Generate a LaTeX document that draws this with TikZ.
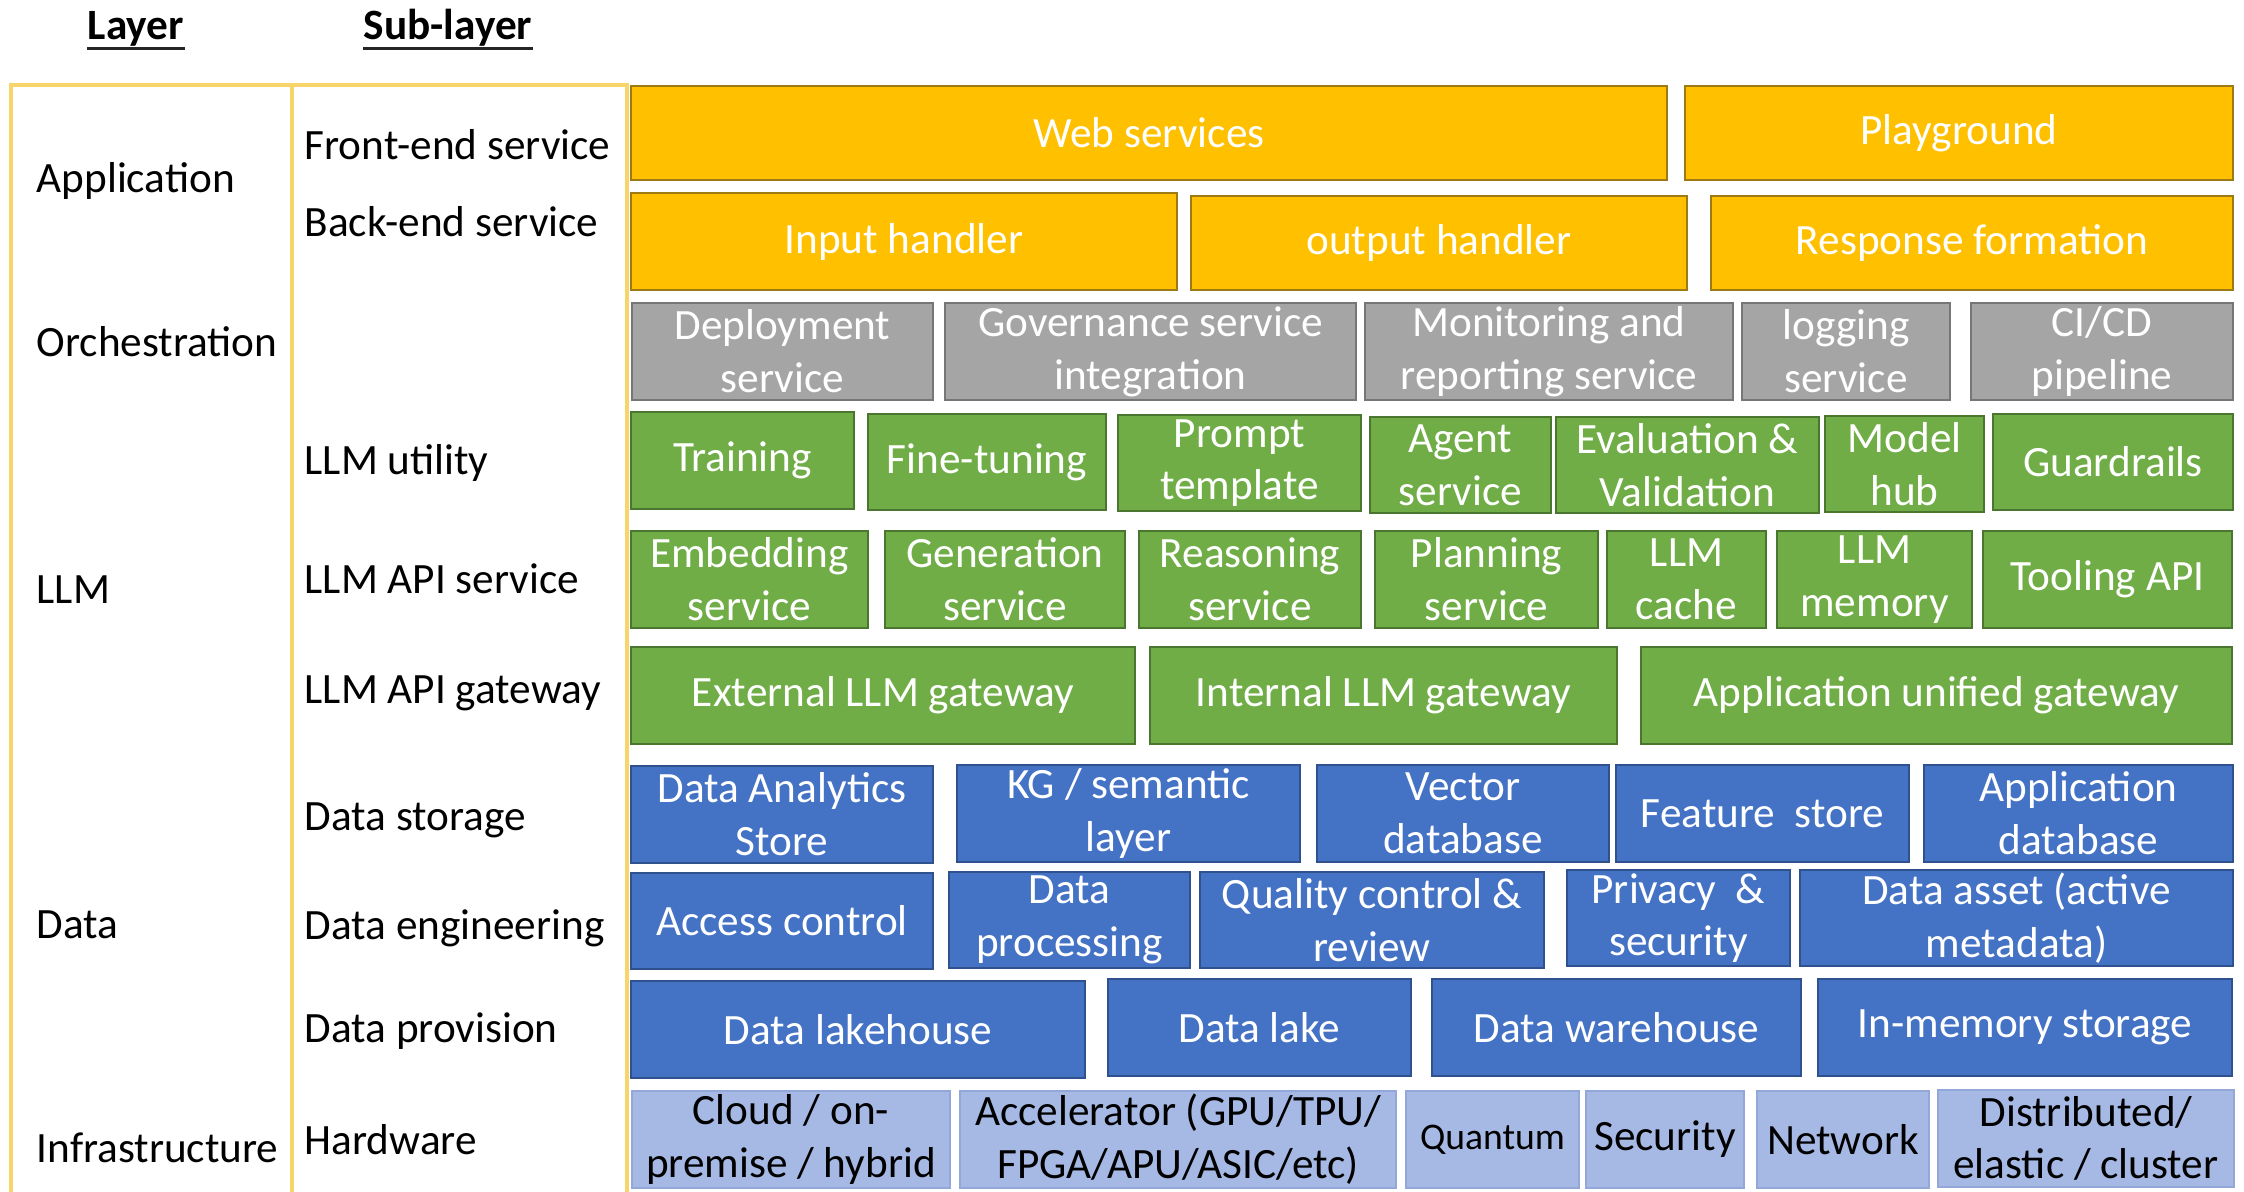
\documentclass[tikz,border=0pt]{standalone}
\usepackage{fontspec}
\setmainfont{Carlito}
\definecolor{goldf}{HTML}{FFC000}
\definecolor{goldd}{HTML}{9E7A12}
\definecolor{grayf}{HTML}{A5A5A5}
\definecolor{grayd}{HTML}{767676}
\definecolor{greenf}{HTML}{70AD47}
\definecolor{greend}{HTML}{4A7630}
\definecolor{bluef}{HTML}{4472C4}
\definecolor{blued}{HTML}{2F528F}
\definecolor{hwf}{HTML}{A6B9E4}
\definecolor{hwd}{HTML}{93A8D8}
\definecolor{framec}{HTML}{F8D56A}
\newcommand\bxfont{\fontsize{12.3pt}{15pt}\selectfont}
\newcommand\smfont{\fontsize{10.7pt}{13pt}\selectfont}
% style, name, x1, y1, x2, y2, text
\newcommand\bx[7]{%
  \pgfmathsetmacro\bxw{(#5-#3)*0.01}%
  \pgfmathsetmacro\bxh{(#6-#4)*0.01}%
  \node[#1, minimum width=\bxw cm, minimum height=\bxh cm] (#2) at ({(#3+#5)/2},{(#4+#6)/2}) {#7};}
\begin{document}
\begin{tikzpicture}[x=0.01cm,y=-0.01cm,
  boxbase/.style={inner sep=0pt, line width=0.6pt, align=center, font=\bxfont, text=white},
  yb/.style={boxbase, fill=goldf, draw=goldd},
  gb/.style={boxbase, fill=grayf, draw=grayd},
  grb/.style={boxbase, fill=greenf, draw=greend},
  bb/.style={boxbase, fill=bluef, draw=blued},
  hb/.style={boxbase, fill=hwf, draw=hwd, text=black},
  lbl/.style={anchor=base west, inner sep=0pt, font=\bxfont, text=black},
  hdr/.style={anchor=base, inner sep=0pt, font=\bxfont\bfseries, text=black},
  uline/.style={draw=black!85, line width=0.8pt},
  frame/.style={draw=framec, line width=0.9pt}]
\useasboundingbox (0,0) rectangle (2244,1192);
% frame
\draw[frame] (11,1192) -- (11,85) -- (627,85) -- (627,1192);
\draw[frame] (292,85) -- (292,1192);
% headers
\node[hdr] (hlayer) at (136,40) {Layer};
\node[hdr] (hsub) at (448,40) {Sub-layer};
\draw[uline] ([yshift=-2.5pt]hlayer.base west) -- ([yshift=-2.5pt]hlayer.base east);
\draw[uline] ([yshift=-2.5pt]hsub.base west) -- ([yshift=-2.5pt]hsub.base east);
% layer labels
\node[lbl] (lapp) at (36,193) {Application};
\node[lbl] (lorch) at (36,357) {Orchestration};
\node[lbl] (lllm) at (36,604) {LLM};
\node[lbl] (ldata) at (36,939) {Data};
\node[lbl] (linfra) at (36,1163) {Infrastructure};
% sub-layer labels
\node[lbl] (sfront) at (304,160) {Front-end service};
\node[lbl] (sback) at (304,237) {Back-end service};
\node[lbl] (sutil) at (304,475) {LLM utility};
\node[lbl] (sapi) at (304,594) {LLM API service};
\node[lbl] (sgw) at (304,704) {LLM API gateway};
\node[lbl] (sstore) at (304,831) {Data storage};
\node[lbl] (seng) at (304,940) {Data engineering};
\node[lbl] (sprov) at (304,1043) {Data provision};
\node[lbl] (shw) at (304,1155) {Hardware};
% Row 1
\bx{yb}{web}{631}{86}{1667}{180}{Web services}
\bx{yb}{play}{1685}{86}{2233}{180}{Playground}
% Row 2
\bx{yb}{inh}{631}{193}{1177}{290}{Input handler}
\bx{yb}{outh}{1191}{196}{1687}{290}{output handler}
\bx{yb}{resp}{1711}{196}{2233}{290}{Response formation}
% Row 3
\bx{gb}{depl}{632}{303}{933}{400}{Deployment\\service}
\bx{gb}{gov}{945}{303}{1356}{400}{Governance service\\integration}
\bx{gb}{mon}{1365}{303}{1733}{400}{Monitoring and\\reporting service}
\bx{gb}{logg}{1742}{303}{1950}{400}{logging\\service}
\bx{gb}{cicd}{1971}{303}{2233}{400}{CI/CD\\pipeline}
% Row 4
\bx{grb}{train}{631}{412}{854}{509}{Training}
\bx{grb}{fine}{868}{414}{1106}{510}{Fine-tuning}
\bx{grb}{prompt}{1118}{415}{1361}{511}{Prompt\\template}
\bx{grb}{agent}{1370}{417}{1551}{513}{Agent\\service}
\bx{grb}{eval}{1556}{417}{1819}{513}{Evaluation \&\\Validation}
\bx{grb}{hub}{1825}{416}{1984}{512}{Model\\hub}
\bx{grb}{guard}{1993}{414}{2233}{510}{Guardrails}
% Row 5
\bx{grb}{emb}{631}{531}{868}{628}{Embedding\\service}
\bx{grb}{gen}{885}{531}{1125}{628}{Generation\\service}
\bx{grb}{reas}{1139}{531}{1361}{628}{Reasoning\\service}
\bx{grb}{plan}{1375}{531}{1598}{628}{Planning\\service}
\bx{grb}{cache}{1607}{531}{1766}{628}{LLM\\cache}
\bx{grb}{mem}{1777}{531}{1972}{628}{LLM\\memory}
\bx{grb}{tool}{1983}{531}{2232}{628}{Tooling API}
% Row 6
\bx{grb}{ext}{631}{647}{1135}{744}{External LLM gateway}
\bx{grb}{int}{1150}{647}{1617}{744}{Internal LLM gateway}
\bx{grb}{appgw}{1641}{647}{2232}{744}{Application unified gateway}
% Row 7
\bx{bb}{dastore}{631}{766}{933}{863}{Data Analytics\\Store}
\bx{bb}{kg}{957}{765}{1300}{862}{KG / semantic\\layer}
\bx{bb}{vec}{1317}{765}{1609}{862}{Vector\\database}
\bx{bb}{feat}{1616}{765}{1909}{862}{Feature~ store}
\bx{bb}{appdb}{1924}{765}{2233}{862}{Application\\database}
% Row 8
\bx{bb}{acc}{631}{873}{933}{969}{Access control}
\bx{bb}{proc}{949}{872}{1190}{968}{Data\\processing}
\bx{bb}{qual}{1200}{872}{1544}{968}{Quality control \&\\review}
\bx{bb}{priv}{1567}{870}{1790}{966}{Privacy~ \&\\security}
\bx{bb}{asset}{1800}{870}{2233}{966}{Data asset (active\\metadata)}
% Row 9
\bx{bb}{lakeh}{631}{981}{1085}{1078}{Data lakehouse}
\bx{bb}{lake}{1108}{979}{1411}{1076}{Data lake}
\bx{bb}{wareh}{1432}{979}{1801}{1076}{Data warehouse}
\bx{bb}{inmem}{1818}{979}{2232}{1076}{In-memory storage}
% Row 10
\bx{hb}{cloud}{632}{1091}{950}{1188}{Cloud / on-\\premise / hybrid}
\bx{hb}{accel}{960}{1091}{1396}{1188}{Accelerator (GPU/TPU/\\FPGA/APU/ASIC/etc)}
\bx{hb, font=\smfont}{quant}{1406}{1091}{1579}{1188}{Quantum}
\bx{hb}{secu}{1586}{1091}{1744}{1188}{Security}
\bx{hb}{netw}{1757}{1091}{1929}{1188}{Network}
\bx{hb}{dist}{1938}{1090}{2234}{1187}{Distributed/\\elastic / cluster}
\end{tikzpicture}
\end{document}
